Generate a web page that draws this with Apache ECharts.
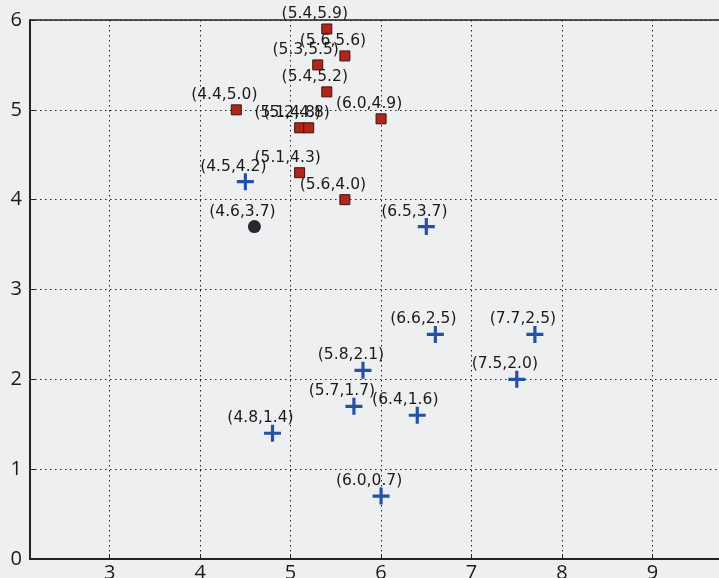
<!DOCTYPE html>
<html>
<head>
<meta charset="utf-8">
<script src="https://cdn.jsdelivr.net/npm/echarts@6/dist/echarts.min.js"></script>
<style>
html,body{margin:0;padding:0;background:#eeeff0;}
#chart{width:719px;height:578px;}
</style>
</head>
<body>
<div id="chart"></div>
<script>
// Class A (red squares)
const redPoints = [
  [5.4, 5.9], [5.6, 5.6], [5.3, 5.5], [5.4, 5.2], [4.4, 5.0],
  [5.1, 4.8], [5.2, 4.8], [6.0, 4.9], [5.1, 4.3], [5.6, 4.0]
];
// Class B (blue crosses)
const bluePoints = [
  [4.5, 4.2], [6.5, 3.7], [6.6, 2.5], [7.7, 2.5], [5.8, 2.1],
  [7.5, 2.0], [5.7, 1.7], [6.4, 1.6], [4.8, 1.4], [6.0, 0.7]
];
// Query point (black circle)
const queryPoints = [[4.6, 3.7]];

const xTicks = [3, 4, 5, 6, 7, 8, 9];
const yTicks = [0, 1, 2, 3, 4, 5, 6];

const fmt = v => '(' + v[0].toFixed(1) + ',' + v[1].toFixed(1) + ')';

const chart = echarts.init(document.getElementById('chart'));
const labelCfg = {
  show: true,
  position: 'inside',
  offset: [-12, -15],
  formatter: p => fmt(p.value),
  fontFamily: 'DejaVu Sans',
  fontSize: 15.5,
  color: '#1a1a1a'
};
const plus = 'path://M6.5,0H9.5V6.5H16V9.5H9.5V16H6.5V9.5H0V6.5H6.5Z';

chart.setOption({
  backgroundColor: '#eeeff0',
  animation: false,
  grid: {
    left: 30, top: 20, width: 713, height: 539,
    outerBoundsMode: 'none',
    show: true, borderColor: '#222', borderWidth: 1.5, backgroundColor: 'transparent'
  },
  xAxis: {
    type: 'value', min: 2.12, max: 10,
    axisLine: { show: true, lineStyle: { color: '#222', width: 2 } },
    axisTick: { show: true, inside: true, length: 5, customValues: xTicks, lineStyle: { color: '#222' } },
    axisLabel: { customValues: xTicks, fontFamily: 'Open Sans', fontSize: 20, color: '#1a1a1a', margin: 4 },
    splitLine: { show: true, lineStyle: { color: '#222', type: [1.5, 3.5], width: 1 } }
  },
  yAxis: {
    type: 'value', min: 0, max: 6, interval: 1,
    axisLine: { show: true, lineStyle: { color: '#222', width: 2 } },
    axisTick: { show: true, inside: true, length: 5, lineStyle: { color: '#222' } },
    axisLabel: { fontFamily: 'Open Sans', fontSize: 20, fontWeight: 500, color: '#1a1a1a', margin: 8,
      customValues: yTicks },
    splitLine: { show: true, lineStyle: { color: '#222', type: [1.5, 3.5], width: 1 } }
  },
  series: [
    {
      type: 'scatter', data: redPoints, symbol: 'rect', symbolSize: 10,
      itemStyle: { color: '#b0261a', borderColor: '#3a1510', borderWidth: 1, opacity: 1 },
      label: labelCfg
    },
    {
      type: 'scatter', data: bluePoints, symbol: plus, symbolSize: 17,
      itemStyle: { color: '#2452a4', opacity: 1 },
      label: labelCfg
    },
    {
      type: 'scatter', data: queryPoints, symbol: 'circle', symbolSize: 13,
      itemStyle: { color: '#28282c', opacity: 1 },
      label: labelCfg
    }
  ]
});
</script>
</body>
</html>
